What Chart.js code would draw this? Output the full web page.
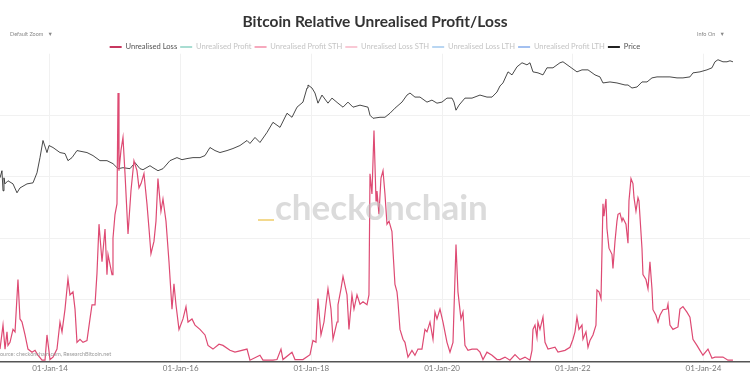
<!DOCTYPE html>
<html>
<head>
<meta charset="utf-8">
<script src="https://cdn.jsdelivr.net/npm/chart.js@4"></script>
<style>
html,body{margin:0;padding:0;background:#fff;}
#wrap{position:relative;width:750px;height:375px;overflow:hidden;}
canvas{position:absolute;left:0;top:0;}
.ov{position:absolute;font-family:Lato,"Open Sans",sans-serif;white-space:nowrap;}
</style>
</head>
<body>
<div id="wrap">
<canvas id="c" width="750" height="375"></canvas>
<div class="ov" style="left:10px;top:31px;font-size:5.5px;color:#888;">Default Zoom &nbsp;&nbsp;▼</div>
<div class="ov" style="left:697px;top:31px;font-size:5.5px;color:#888;">Info On &nbsp;&nbsp;▼</div>
<div class="ov" style="left:275px;top:185px;font-size:35px;font-weight:700;color:rgba(195,195,195,0.6);">checkonchain</div>
<div class="ov" style="left:258px;top:219px;width:16px;height:2px;background:#f3d98e;"></div>
<div class="ov" style="left:-3px;top:351px;font-size:5.5px;color:#999;">Source: checkonchain.com, ResearchBitcoin.net</div>
</div>
<script>
const tickYears = [2014, 2016, 2018, 2020, 2022, 2024];

const lossYears = [2013.235,2013.281,2013.312,2013.342,2013.357,2013.388,2013.434,2013.465,2013.510,2013.541,2013.572,2013.618,2013.663,2013.725,2013.771,2013.816,2013.878,2013.924,2013.954,2014.000,2014.046,2014.107,2014.153,2014.184,2014.230,2014.260,2014.275,2014.306,2014.352,2014.383,2014.413,2014.459,2014.505,2014.566,2014.612,2014.643,2014.689,2014.719,2014.750,2014.796,2014.842,2014.872,2014.888,2014.949,2014.964,2014.995,2015.025,2015.041,2015.056,2015.086,2015.117,2015.148,2015.194,2015.239,2015.285,2015.331,2015.362,2015.393,2015.438,2015.484,2015.515,2015.545,2015.591,2015.622,2015.652,2015.698,2015.729,2015.775,2015.821,2015.867,2015.897,2015.928,2015.974,2016.035,2016.081,2016.112,2016.173,2016.219,2016.295,2016.372,2016.418,2016.494,2016.586,2016.647,2016.754,2016.831,2017.015,2017.060,2017.213,2017.259,2017.412,2017.474,2017.535,2017.565,2017.703,2017.749,2017.871,2017.979,2018.024,2018.070,2018.101,2018.147,2018.193,2018.223,2018.254,2018.300,2018.331,2018.392,2018.407,2018.453,2018.484,2018.545,2018.575,2018.621,2018.652,2018.698,2018.744,2018.790,2018.851,2018.881,2018.897,2018.927,2018.958,2018.989,2019.004,2019.034,2019.065,2019.096,2019.126,2019.157,2019.188,2019.233,2019.249,2019.279,2019.310,2019.325,2019.356,2019.402,2019.432,2019.478,2019.539,2019.585,2019.631,2019.692,2019.738,2019.769,2019.815,2019.861,2019.891,2019.922,2019.968,2020.014,2020.075,2020.121,2020.167,2020.213,2020.243,2020.289,2020.320,2020.350,2020.396,2020.458,2020.534,2020.580,2020.626,2020.687,2020.764,2020.840,2020.886,2020.963,2021.039,2021.116,2021.192,2021.269,2021.345,2021.376,2021.391,2021.422,2021.452,2021.467,2021.498,2021.544,2021.575,2021.621,2021.728,2021.774,2021.881,2021.957,2022.003,2022.034,2022.064,2022.095,2022.141,2022.156,2022.202,2022.233,2022.263,2022.309,2022.355,2022.370,2022.401,2022.432,2022.462,2022.477,2022.508,2022.523,2022.554,2022.600,2022.615,2022.646,2022.676,2022.692,2022.722,2022.753,2022.768,2022.814,2022.845,2022.860,2022.891,2022.921,2022.937,2022.967,2022.998,2023.013,2023.059,2023.074,2023.120,2023.151,2023.181,2023.212,2023.227,2023.273,2023.304,2023.334,2023.380,2023.441,2023.457,2023.487,2023.533,2023.610,2023.640,2023.686,2023.747,2023.793,2023.839,2023.900,2023.946,2023.992,2024.069,2024.130,2024.176,2024.298,2024.375,2024.451];

const lossValues = [0.020,0.059,0.020,0.048,0.026,0.031,0.052,0.048,0.133,0.069,0.064,0.043,0.020,0.015,0.018,0.010,0.002,0.002,0.043,0.003,0.007,0.020,0.064,0.048,0.085,0.118,0.134,0.108,0.113,0.085,0.031,0.036,0.031,0.034,0.069,0.092,0.092,0.143,0.223,0.162,0.215,0.141,0.174,0.141,0.200,0.239,0.256,0.436,0.310,0.343,0.364,0.305,0.207,0.277,0.326,0.310,0.282,0.289,0.305,0.256,0.216,0.175,0.195,0.228,0.297,0.244,0.264,0.228,0.162,0.085,0.126,0.092,0.052,0.069,0.089,0.064,0.069,0.059,0.052,0.043,0.026,0.020,0.028,0.026,0.018,0.015,0.020,0.002,0.010,0.002,0.002,0.003,0.020,0.003,0.015,0.003,0.003,0.011,0.034,0.031,0.102,0.043,0.064,0.092,0.118,0.085,0.036,0.064,0.092,0.118,0.138,0.108,0.052,0.108,0.085,0.108,0.093,0.097,0.092,0.108,0.305,0.272,0.375,0.261,0.277,0.239,0.298,0.310,0.272,0.223,0.228,0.211,0.179,0.125,0.113,0.097,0.052,0.036,0.031,0.007,0.018,0.010,0.020,0.020,0.052,0.048,0.064,0.036,0.080,0.069,0.085,0.064,0.031,0.015,0.031,0.190,0.113,0.069,0.080,0.026,0.018,0.020,0.020,0.015,0.003,0.015,0.010,0.003,0.003,0.007,0.002,0.011,0.003,0.007,0.002,0.018,0.052,0.059,0.039,0.064,0.052,0.072,0.031,0.020,0.023,0.015,0.018,0.023,0.036,0.048,0.072,0.052,0.059,0.036,0.048,0.023,0.034,0.043,0.059,0.116,0.113,0.102,0.256,0.236,0.264,0.216,0.184,0.174,0.151,0.195,0.228,0.239,0.241,0.228,0.233,0.223,0.192,0.261,0.297,0.289,0.266,0.244,0.266,0.261,0.184,0.141,0.133,0.118,0.162,0.118,0.084,0.075,0.064,0.075,0.084,0.085,0.093,0.059,0.052,0.056,0.085,0.089,0.080,0.072,0.036,0.026,0.018,0.010,0.020,0.005,0.007,0.007,0.002,0.002];

const priceYears = [2013.235,2013.265,2013.281,2013.296,2013.311,2013.357,2013.434,2013.495,2013.541,2013.648,2013.740,2013.801,2013.847,2013.893,2013.954,2013.985,2014.046,2014.153,2014.230,2014.275,2014.337,2014.413,2014.566,2014.658,2014.765,2014.872,2014.964,2015.041,2015.117,2015.224,2015.301,2015.377,2015.423,2015.530,2015.576,2015.653,2015.729,2015.836,2015.943,2016.020,2016.096,2016.188,2016.295,2016.372,2016.448,2016.525,2016.601,2016.709,2016.800,2016.907,2017.015,2017.060,2017.137,2017.213,2017.321,2017.412,2017.520,2017.627,2017.703,2017.780,2017.871,2017.933,2017.948,2018.009,2018.055,2018.101,2018.162,2018.254,2018.315,2018.407,2018.484,2018.560,2018.637,2018.744,2018.866,2018.897,2018.943,2019.050,2019.126,2019.203,2019.279,2019.386,2019.463,2019.509,2019.585,2019.662,2019.769,2019.845,2019.922,2019.998,2020.075,2020.152,2020.182,2020.213,2020.259,2020.350,2020.458,2020.580,2020.687,2020.764,2020.840,2020.886,2020.932,2021.009,2021.070,2021.146,2021.223,2021.299,2021.345,2021.391,2021.468,2021.544,2021.605,2021.697,2021.804,2021.850,2021.957,2022.064,2022.141,2022.233,2022.340,2022.416,2022.462,2022.569,2022.676,2022.799,2022.845,2022.906,2022.983,2023.059,2023.136,2023.212,2023.289,2023.380,2023.487,2023.595,2023.686,2023.793,2023.839,2023.946,2024.053,2024.130,2024.176,2024.222,2024.298,2024.360,2024.406,2024.451];

const priceValues = [119,176,58,119,85,101,85,52,68,85,90,157,363,935,480,708,634,480,454,307,363,536,480,406,307,307,260,197,208,197,275,197,186,232,208,176,197,307,363,324,344,363,363,406,634,536,480,536,600,708,935,793,1107,838,1462,2553,1932,4217,3373,5902,7798,17010,20090,17010,12880,7362,11510,7362,9727,7362,5902,7798,5902,6592,5902,3776,3192,3373,3373,4217,5572,7798,11510,12880,10300,10300,7798,8710,7362,7798,9727,9727,7798,4989,6592,9727,9727,11510,10300,10300,13610,19010,22490,41500,35080,54830,68550,61240,68550,41500,39260,35080,51880,51880,68550,72440,54830,41500,46350,46350,35080,31410,22490,23770,22490,20090,20090,17010,17990,23770,23770,29720,31410,31410,31410,29720,29720,31410,39260,41500,46350,51880,72440,81100,72440,72440,76560,72440];

const lossColor = '#de4a73';
const legendItems = [
  {text:'Unrealised Loss', color:'#c7375f', on:true},
  {text:'Unrealised Profit', color:'#a9ddd2', on:false},
  {text:'Unrealised Profit STH', color:'#f6a9bd', on:false},
  {text:'Unrealised Loss STH', color:'#f9c9d5', on:false},
  {text:'Unrealised Loss LTH', color:'#b9d6f2', on:false},
  {text:'Unrealised Profit LTH', color:'#a3c0f0', on:false},
  {text:'Price', color:'#222', on:true}
];

const lossData = lossYears.map((x,i)=>({x:x, y:lossValues[i]}));
const priceData = priceYears.map((x,i)=>({x:x, y:priceValues[i]}));

const datasets = [
  {label:'Unrealised Loss', data:lossData, yAxisID:'y', borderColor:lossColor, borderWidth:1.2, pointRadius:0, order:1},
  {label:'Unrealised Profit', data:[], yAxisID:'y', borderColor:'#a9ddd2', pointRadius:0},
  {label:'Unrealised Profit STH', data:[], yAxisID:'y', borderColor:'#f6a9bd', pointRadius:0},
  {label:'Unrealised Loss STH', data:[], yAxisID:'y', borderColor:'#f9c9d5', pointRadius:0},
  {label:'Unrealised Loss LTH', data:[], yAxisID:'y', borderColor:'#b9d6f2', pointRadius:0},
  {label:'Unrealised Profit LTH', data:[], yAxisID:'y', borderColor:'#a3c0f0', pointRadius:0},
  {label:'Price', data:priceData, yAxisID:'yp', borderColor:'#1a1a1a', borderWidth:0.8, pointRadius:0, order:2}
];

const legendTrim = {
  id:'legendTrim',
  afterInit(chart){
    const lg = chart.legend;
    if (!lg) return;
    const f = lg.fit.bind(lg);
    lg.fit = function(){ f(); this.height = Math.max(0, this.height - 7); };
  }
};

new Chart(document.getElementById('c'), {
  type:'line',
  data:{datasets:datasets},
  plugins:[legendTrim],
  options:{
    responsive:false,
    animation:false,
    layout:{padding:{left:0,right:0,top:0,bottom:0}},
    plugins:{
      title:{display:true, text:'Bitcoin Relative Unrealised Profit/Loss', color:'#333',
        font:{family:'Lato', size:15.5, weight:'bold'}, padding:{top:13,bottom:8.5}},
      legend:{display:true, position:'top',
        labels:{boxWidth:12, boxHeight:2, padding:3, font:{family:'Lato', size:7.6},
          generateLabels:(chart)=>legendItems.map((it,i)=>({
            text:it.text, fillStyle:it.color, strokeStyle:it.color, lineWidth:0,
            fontColor: it.on ? '#555' : '#c4c4c4', hidden:false, datasetIndex:i
          }))
        }
      },
      tooltip:{enabled:false}
    },
    scales:{
      x:{type:'linear', min:2013.235, max:2024.712,
        afterBuildTicks:(axis)=>{axis.ticks = tickYears.map(v=>({value:v}));},
        ticks:{callback:(v)=>'01-Jan-'+String(v).slice(2), color:'#777', font:{family:'Lato', size:8}, maxRotation:0, padding:2},
        grid:{color:'#f1f1f1', drawTicks:false},
        border:{display:true, color:'#555', width:1.5}
      },
      y:{type:'linear', position:'left', min:0, max:0.5,
        ticks:{display:false, stepSize:0.1},
        grid:{color:(ctx)=> (ctx.tick && ctx.tick.value >= 0.5) ? 'rgba(0,0,0,0)' : '#f1f1f1', drawTicks:false},
        border:{display:false}
      },
      yp:{type:'logarithmic', position:'right', display:false,
        min:Math.pow(10,-2.331), max:Math.pow(10,5.054)}
    }
  }
});
</script>
</body>
</html>
